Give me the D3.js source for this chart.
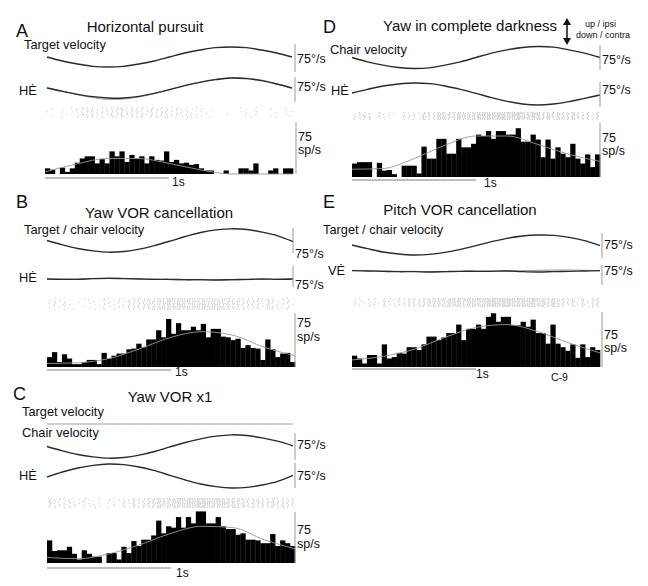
<!DOCTYPE html>
<html><head><meta charset="utf-8">
<script src="https://cdn.jsdelivr.net/npm/d3@7"></script>
<style>
body{margin:0;background:#fff}
svg{display:block}
text{font-family:"Liberation Sans",Arial,Helvetica,sans-serif;fill:#111}
</style>
</head><body>
<svg id="chart" width="648" height="586"></svg>
<script>
// ---------- DATA ----------
const windowSec = 2;
const traceTimes = [0,0.125,0.25,0.375,0.5,0.625,0.75,0.875,1,1.125,1.25,1.375,1.5,1.625,1.75,1.875,2];
const fitTimes = [0,0.25,0.5,0.75,1,1.25,1.5,1.75,2];
const binCount = 50;

// A: Horizontal pursuit (deg/s, sp/s)
const pursuitTarget = [0,-12,-21,-28,-30,-28,-21,-12,0,12,21,28,30,28,21,12,0];
const pursuitEye    = [0,-10,-19,-26,-30,-30,-25,-16,-5,7,17,25,30,28,22,12,0];
const pursuitEyeAlt = [1,-9,-20,-29,-34,-33,-27,-17,-5,8,18,26,31,30,24,13,-1];
const pursuitRate = [8,6,0,9,3,8,16,22,25,25,15,21,15,32,25,32,17,27,22,25,15,25,20,19,32,17,20,15,16,13,14,8,5,5,0,0,5,0,0,8,8,5,15,0,0,5,8,0,8,8];
const pursuitFit = [3,14,22,22,15,6,0,0,0];

// B: Yaw VOR cancellation
const cancelTarget = [0,-13,-24,-31,-35,-33,-26,-15,-2,12,24,32,35,33,25,14,-3];
const cancelEye    = [0,-1,-1,1,2,1,0,-1,-1,-2,-2,-3,-2,-1,0,-1,0];
const cancelEyeAlt = [1,0,0,2,3,2,1,0,-2,-3,-3,-2,-3,-2,-1,0,1];
const cancelRate = [14,21,7,18,12,4,4,7,10,10,4,20,12,16,19,19,25,26,33,28,39,39,52,42,68,47,62,52,52,57,52,61,42,54,54,43,42,38,40,27,31,27,26,10,39,25,14,19,20,7];
const cancelFit = [5,6,12,26,42,50,45,28,16];

// C: Yaw VOR x1
const vorTarget = [0,0,0,0,0,0,0,0,0,0,0,0,0,0,0,0,0];
const vorChair  = [0,-13,-24,-31,-35,-33,-26,-15,-1,12,23,31,35,33,26,16,2];
const vorEye    = [-3,12,24,32,36,34,27,16,2,-12,-24,-32,-36,-34,-27,-16,2];
const vorRate = [32,17,18,18,23,13,5,18,13,9,9,0,14,14,5,23,14,31,24,33,33,39,60,42,52,50,65,50,65,56,73,73,56,56,65,52,48,48,40,42,33,33,32,28,28,41,24,32,28,24];
const vorFit = [8,6,13,26,42,52,50,33,20];

// D: Yaw in complete darkness
const darkChair = [0,-13,-23,-30,-33,-31,-23,-13,0,13,23,30,33,31,23,13,0];
const darkEye   = [3,14,24,30,33,31,24,14,2,-11,-22,-30,-33,-30,-23,-13,-3];
const darkRate = [19,21,21,21,0,20,9,10,4,0,16,16,16,5,43,26,26,54,54,33,33,54,42,42,47,60,58,65,54,65,65,60,60,69,50,50,60,53,28,53,26,42,33,28,47,26,19,32,14,32];
const darkFit = [11,12,26,45,58,58,46,32,22];

// E: Pitch VOR cancellation
const pitchTarget = [0,-11,-21,-27,-30,-28,-22,-13,-2,10,20,27,30,29,23,13,-2];
const pitchEye    = [1,0,-1,-2,-2,-3,-2,-1,-1,-1,0,-2,-3,-2,-1,0,1];
const pitchEyeAlt = [2,1,0,-1,-1,-2,-2,-1,0,0,1,1,2,3,3,2,1];
const pitchRate = [16,12,5,17,17,5,32,12,14,20,19,28,28,24,32,43,43,38,42,48,48,60,38,54,54,60,54,71,76,64,71,71,59,59,64,57,67,48,48,33,60,33,28,23,32,13,32,14,28,24];
const pitchFit = [10,15,25,42,56,60,50,34,20];

const scaleLabel = "75°/s";
const rateLabel = ["75","sp/s"];
const timeLabel = "1s";

// ---------- LAYOUT ----------
const panels = [
 {letter:"A", lp:[16,37], title:"Horizontal pursuit", tp:[145,32], x0:47, x1:292,
  labels:[{t:"Target velocity",x:24,y:49},{t:"HĖ",x:19,y:95}],
  traces:[{d:pursuitTarget,cy:57},{d:pursuitEyeAlt,cy:88,alt:true},{d:pursuitEye,cy:88}],
  sx:295, scales:[{y0:44,y1:72,ly:63},{y0:77,y1:102,ly:91}],
  raster:[107,118], hist:{d:pursuitRate,fit:pursuitFit,x0:45,x1:293,base:174,sx:296,top:122,l1:141,l2:154},
  tb:{y:178,lx:172,ly:186}},
 {letter:"B", lp:[16,208], title:"Yaw VOR cancellation", tp:[159,218], x0:47, x1:293,
  labels:[{t:"Target / chair velocity",x:24,y:234},{t:"HĖ",x:19,y:282}],
  traces:[{d:cancelTarget,cy:240.5},{d:cancelEyeAlt,cy:279,alt:true},{d:cancelEye,cy:279}],
  sx:293, scales:[{y0:228,y1:253,ly:258},{y0:266,y1:287,ly:289}],
  raster:[298,310], hist:{d:cancelRate,fit:cancelFit,x0:47,x1:295,base:367,sx:295,top:313,l1:327,l2:341},
  tb:{y:370,lx:175,ly:376}},
 {letter:"C", lp:[13,400], title:"Yaw VOR x1", tp:[170,402], x0:47, x1:293,
  labels:[{t:"Target velocity",x:22,y:416},{t:"Chair velocity",x:22,y:437},{t:"HĖ",x:19,y:480}],
  traces:[{d:vorTarget,cy:424,flat:true},{d:vorChair,cy:446.5},{d:vorEye,cy:476}],
  sx:295, scales:[{y0:433,y1:460,ly:449},{y0:463,y1:488,ly:480}],
  raster:[498,508], hist:{d:vorRate,fit:vorFit,x0:47,x1:295,base:563,sx:295,top:512,l1:534,l2:548},
  tb:{y:568,lx:176,ly:577}},
 {letter:"D", lp:[323,33], title:"Yaw in complete darkness", tp:[470,31], x0:352, x1:600,
  labels:[{t:"Chair velocity",x:330,y:54},{t:"HĖ",x:331,y:95}],
  traces:[{d:darkChair,cy:57.5},{d:darkEye,cy:94}],
  sx:600, scales:[{y0:45,y1:70,ly:64},{y0:82,y1:107,ly:94}],
  raster:[112,120], hist:{d:darkRate,fit:darkFit,x0:352,x1:600,base:177,sx:600,top:123,l1:142,l2:155},
  tb:{y:180,lx:484,ly:187}},
 {letter:"E", lp:[323,208], title:"Pitch VOR cancellation", tp:[460,215], x0:352, x1:600,
  labels:[{t:"Target / chair velocity",x:323,y:234},{t:"VĖ",x:328,y:275}],
  traces:[{d:pitchTarget,cy:245},{d:pitchEyeAlt,cy:271,alt:true},{d:pitchEye,cy:271}],
  sx:602, scales:[{y0:233,y1:258,ly:249},{y0:265,y1:285,ly:275}],
  raster:[298,307], hist:{d:pitchRate,fit:pitchFit,x0:352,x1:600,base:367,sx:602,top:312,l1:339,l2:352},
  tb:{y:369,lx:476,ly:378}, extra:{t:"C-9",x:551,y:381}}
];

// ---------- DRAW ----------
const svg = d3.select("#chart");
const pxPerVel = 25/75;   // trace scale
const histPx = 53;        // 75 sp/s in px

panels.forEach(p => {
  const g = svg.append("g");
  g.append("text").attr("x",p.lp[0]).attr("y",p.lp[1]).attr("font-size",18).text(p.letter);
  g.append("text").attr("x",p.tp[0]).attr("y",p.tp[1]).attr("font-size",15)
    .attr("text-anchor","middle").text(p.title);
  p.labels.forEach(l => g.append("text").attr("x",l.x).attr("y",l.y).attr("font-size",12.8).text(l.t));

  const x = d3.scaleLinear().domain([0,windowSec]).range([p.x0,p.x1]);
  p.traces.forEach(tr => {
    const y = d3.scaleLinear().domain([-75,75]).range([tr.cy+75*pxPerVel, tr.cy-75*pxPerVel]);
    const line = d3.line().x((v,i)=>x(traceTimes[i])).y(v=>y(v)).curve(d3.curveCatmullRom);
    g.append("path").attr("d", line(tr.d)).attr("fill","none")
      .attr("stroke", tr.flat ? "#888" : tr.alt ? "#999" : "#2a2a2a")
      .attr("stroke-width", tr.flat ? 0.8 : tr.alt ? 1 : 1.4);
  });
  p.scales.forEach(s => {
    g.append("line").attr("x1",p.sx).attr("x2",p.sx).attr("y1",s.y0).attr("y2",s.y1)
      .attr("stroke","#999").attr("stroke-width",1);
    g.append("text").attr("x",p.sx+2).attr("y",s.ly).attr("font-size",12.5).text(scaleLabel);
  });

  const h = p.hist;
  const hx = d3.scaleLinear().domain([0,windowSec]).range([h.x0,h.x1]);
  const hy = d3.scaleLinear().domain([0,75]).range([h.base, h.base-histPx]);
  const bw = windowSec/binCount;

  // raster derived from histogram rates
  const nTr = 8;
  const rg = g.append("g").attr("fill","#cfcfcf");
  for (let r=0; r<nTr; r++) {
    const ry = p.raster[0] + (r+0.5)*(p.raster[1]-p.raster[0])/nTr;
    let acc = (r*0.618)%1;
    h.d.forEach((rate,i) => {
      acc += rate*bw*0.9;
      const n = Math.floor(acc); acc -= n;
      for (let k=0;k<n;k++){
        const t = (i + (k+0.3+((r*0.37+i*0.21)%0.5))/(n+0.3))*bw;
        rg.append("rect").attr("x",hx(t)).attr("y",ry-0.6).attr("width",1.2).attr("height",1.2);
      }
    });
  }

  g.append("g").selectAll("rect").data(h.d).join("rect")
    .attr("x",(v,i)=>hx(i*bw)).attr("width",(v,i)=>hx((i+1)*bw)-hx(i*bw)+0.3)
    .attr("y",v=>hy(v)).attr("height",v=>h.base-hy(v)).attr("fill","#000");
  const fitLine = d3.line().x((v,i)=>hx(fitTimes[i])).y(v=>hy(v)).curve(d3.curveMonotoneX);
  g.append("path").attr("d",fitLine(h.fit)).attr("fill","none").attr("stroke","#999").attr("stroke-width",0.9);
  g.append("line").attr("x1",h.sx).attr("x2",h.sx).attr("y1",h.top).attr("y2",h.base)
    .attr("stroke","#999").attr("stroke-width",1);
  g.append("text").attr("x",h.sx+2).attr("y",h.l1).attr("font-size",12.5).text(rateLabel[0]);
  g.append("text").attr("x",h.sx+2).attr("y",h.l2).attr("font-size",12.5).text(rateLabel[1]);

  g.append("line").attr("x1",hx(0)).attr("x2",hx(1)).attr("y1",p.tb.y).attr("y2",p.tb.y)
    .attr("stroke","#aaa").attr("stroke-width",1.5);
  g.append("text").attr("x",p.tb.lx).attr("y",p.tb.ly).attr("font-size",12).text(timeLabel);
  if (p.extra) g.append("text").attr("x",p.extra.x).attr("y",p.extra.y).attr("font-size",10.5).text(p.extra.t);
});

// direction legend in D
const ax = 567;
svg.append("line").attr("x1",ax).attr("x2",ax).attr("y1",22).attr("y2",41).attr("stroke","#111").attr("stroke-width",1.5);
svg.append("path").attr("d",`M${ax},18 L${ax-4},25 L${ax+4},25 Z`).attr("fill","#111");
svg.append("path").attr("d",`M${ax},45 L${ax-4},38 L${ax+4},38 Z`).attr("fill","#111");
svg.append("text").attr("x",585).attr("y",26.5).attr("font-size",9).text("up / ipsi");
svg.append("text").attr("x",576).attr("y",38).attr("font-size",9).text("down / contra");
</script>
</body></html>
